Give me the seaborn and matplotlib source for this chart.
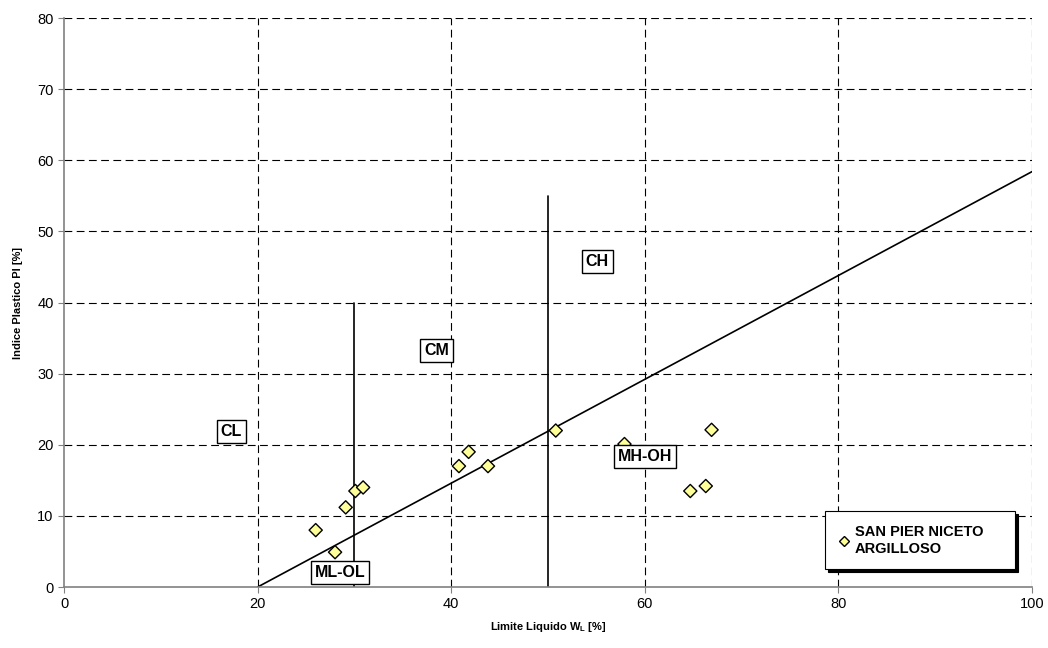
import matplotlib
matplotlib.use("Agg")
import matplotlib.pyplot as plt
import seaborn as sns
import pandas as pd

# Data
liquid_limit = [26.0, 28.0, 29.1, 30.1, 30.9, 40.8, 41.8, 43.8, 50.8, 57.9, 64.7, 66.3, 66.9]
plastic_index = [8.0, 4.9, 11.2, 13.5, 14.0, 17.0, 19.0, 17.0, 22.0, 20.1, 13.5, 14.2, 22.1]
series_name = "SAN PIER NICETO\nARGILLOSO"

aline_x = [20, 100]
aline_y = [0, 58.4]
vline30_x = [30, 30]
vline30_y = [0, 40]
vline50_x = [50, 50]
vline50_y = [0, 55]

zone_labels = ["CL", "CM", "CH", "MH-OH", "ML-OL"]
zone_x = [17.3, 38.5, 55.1, 60.0, 28.5]
zone_y = [21.9, 33.2, 45.7, 18.3, 2.1]

xticks = [0, 20, 40, 60, 80, 100]
yticks = [0, 10, 20, 30, 40, 50, 60, 70, 80]

sns.set_style("white", {"text.color": "black", "axes.labelcolor": "black",
                        "xtick.color": "black", "ytick.color": "black"})
plt.rcParams['font.family'] = ['Liberation Sans', 'DejaVu Sans']

fig = plt.figure(figsize=(10.48, 6.48), dpi=100)
ax = fig.add_axes([0.0611, 0.0941, 0.9236, 0.8781])

df = pd.DataFrame({"LL": liquid_limit, "PI": plastic_index, "serie": series_name})

# grid
for xv in xticks[1:]:
    ax.axvline(xv, color="black", lw=0.8, ls=(0, (7, 4)), zorder=1)
for yv in yticks[1:]:
    ax.axhline(yv, color="black", lw=0.8, ls=(0, (7, 4)), zorder=1)

ax.plot(aline_x, aline_y, color="black", lw=1.2, zorder=2)
ax.plot(vline30_x, vline30_y, color="black", lw=1.2, zorder=2)
ax.plot(vline50_x, vline50_y, color="black", lw=1.2, zorder=2)

sns.scatterplot(data=df, x="LL", y="PI", hue="serie", palette=["#FFFF99"],
                marker="D", s=45, edgecolor="black", linewidth=1.0, ax=ax, zorder=3)

for lab, zx, zy in zip(zone_labels, zone_x, zone_y):
    ax.text(zx, zy, lab, ha="center", va="center", fontsize=11.5, fontweight="bold",
            color="black",
            bbox=dict(boxstyle="square,pad=0.25", fc="white", ec="black", lw=1.0), zorder=4)

ax.set_xlim(0, 100)
ax.set_ylim(0, 80)
ax.set_xticks(xticks)
ax.set_yticks(yticks)
ax.tick_params(axis="both", labelsize=10.5, length=4, direction="out", color="#808080",
               labelcolor="black", bottom=True, left=True)
ax.set_xlabel("Limite Liquido W$_\\mathregular{L}$ [%]", fontsize=8, fontweight="bold", labelpad=6)
ax.set_ylabel("Indice Plastico PI [%]", fontsize=8, fontweight="bold", labelpad=10)

for s in ["left", "bottom"]:
    ax.spines[s].set_color("#808080")
    ax.spines[s].set_linewidth(1.2)
for s in ["top", "right"]:
    ax.spines[s].set_visible(False)

leg = ax.legend(loc="lower left", bbox_to_anchor=(0.779, 0.018, 0.211, 0.11), mode="expand",
                frameon=True, fancybox=False, shadow={"color": "black", "alpha": 1.0},
                borderpad=0.9, handletextpad=0.3, handlelength=0.8, markerscale=0.75,
                prop={"weight": "bold", "size": 10.5})
for t in leg.get_texts():
    t.set_linespacing(1.35)
    t.set_color("black")
leg.get_frame().set_edgecolor("black")
leg.get_frame().set_linewidth(0.8)
leg.set_zorder(5)

fig.savefig("out.png", dpi=100, facecolor="white")
